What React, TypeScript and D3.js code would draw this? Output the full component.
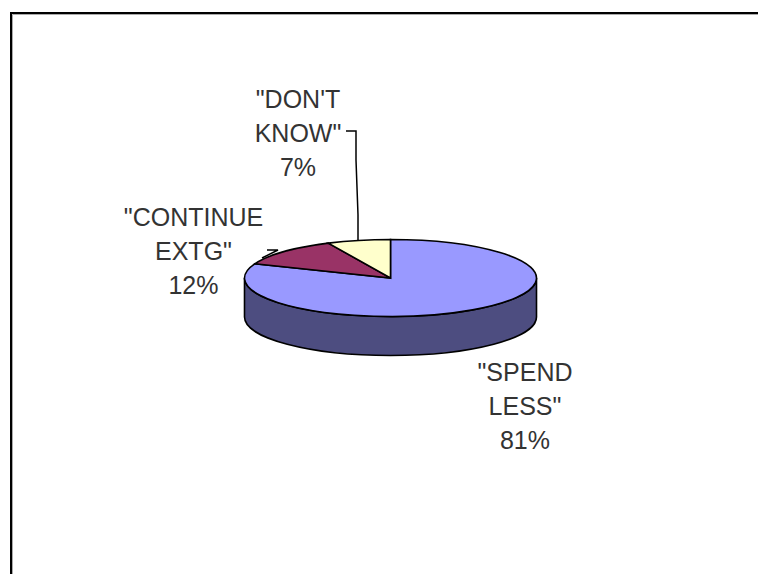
import React from 'react'
import * as d3 from 'd3'

const categories = ['SPEND LESS', 'CONTINUE EXTG', "DON'T KNOW"]
const values = [81, 12, 7]
const labelLines = [['"SPEND', 'LESS"', '81%'], ['"CONTINUE', 'EXTG"', '12%'], ['"DON\'T', 'KNOW"', '7%']]
const topColors = ['#9999ff', '#993366', '#ffffcc']
const sideColor = '#4d4d80'

const width = 758
const height = 574
const cx = 390.5
const cy = 278
const rx = 146
const ry = 38.5
const depth = 39

// label centre x and first baseline y, per slice
const labelPos = [
  { x: 525, y: 381 },
  { x: 193.5, y: 226 },
  { x: 298, y: 108 },
]
const lineStep = 34

export default function App() {
  const slices = d3.pie<number>().sort(null).startAngle(0).endAngle(2 * Math.PI)(values)
  const arc = d3.arc<d3.PieArcDatum<number>>().innerRadius(0).outerRadius(rx)

  // flatten the circle into the tilted pie
  const px = d3.scaleLinear().domain([-1, 1]).range([cx - rx, cx + rx])
  const py = d3.scaleLinear().domain([-1, 1]).range([cy - ry, cy + ry])

  const side = `M${px(-1)},${cy} A${rx},${ry} 0 0 0 ${px(1)},${cy} L${px(1)},${cy + depth} A${rx},${ry} 0 0 1 ${px(-1)},${cy + depth} Z`

  const dontKnowLeader = d3.line()([[346, 131], [356, 131], [356, 160], [358, 215], [358, py(-0.97)]])
  const continueLeader = d3.line()([[267, 250], [278, 250], [262, 258]])

  return (
    <svg
      width={width}
      height={height}
      style={{ position: 'absolute', left: 0, top: 0, background: '#fff', fontFamily: '"Liberation Sans", Arial, sans-serif' }}
    >
      <path d={`M11,${height}V13H${width}`} fill="none" stroke="#000" strokeWidth={2} />
      <path d={`M12.5,${height}V14.5H${width}`} fill="none" stroke="#aaa" strokeWidth={1} />

      <path d={side} fill={sideColor} stroke="#000" strokeWidth={1.6} />
      <g transform={`translate(${cx},${cy}) scale(1,${ry / rx})`}>
        {slices.map((s, i) => (
          <path
            key={categories[i]}
            d={arc(s) as string}
            fill={topColors[i]}
            stroke="#000"
            strokeWidth={1.6}
            vectorEffect="non-scaling-stroke"
          />
        ))}
      </g>

      <path d={dontKnowLeader as string} fill="none" stroke="#000" strokeWidth={1.5} />
      <path d={continueLeader as string} fill="none" stroke="#000" strokeWidth={1.5} />

      {labelLines.map((lines, i) => (
        <text key={categories[i]} textAnchor="middle" fontSize={25} fill="#333">
          {lines.map((t, j) => (
            <tspan key={t} x={labelPos[i].x} y={labelPos[i].y + j * lineStep}>
              {t}
            </tspan>
          ))}
        </text>
      ))}
    </svg>
  )
}
